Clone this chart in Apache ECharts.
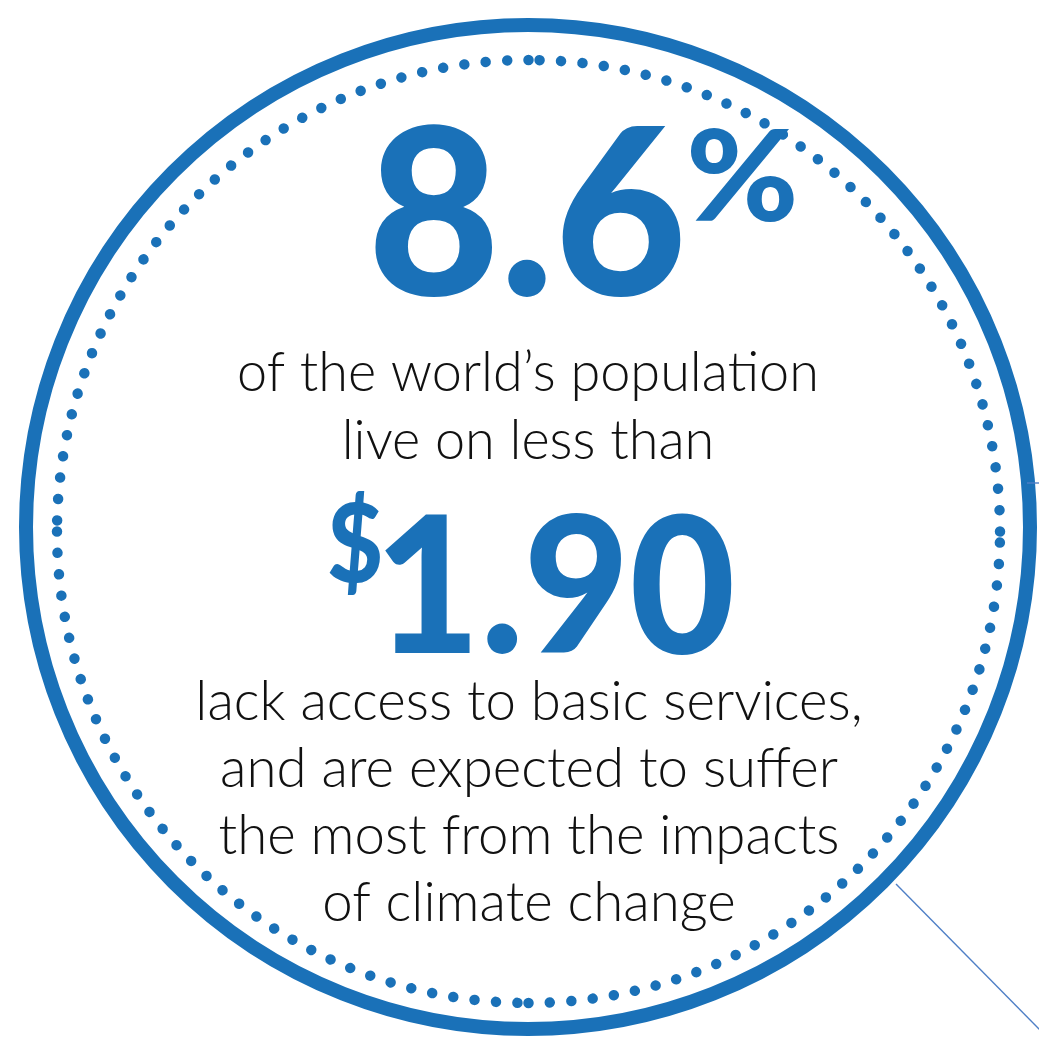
<!DOCTYPE html>
<html>
<head>
<meta charset="utf-8">
<script src="https://cdn.jsdelivr.net/npm/echarts@6/dist/echarts.min.js"></script>
<style>
html,body{margin:0;padding:0;background:#fff;}
#chart{width:1039px;height:1037px;}
</style>
</head>
<body>
<div id="chart"></div>
<script>
// ---- content ----
const shareValue = ['8.6'];
const shareUnit = ['%'];
const currency = ['$'];
const thresholdValue = ['1.90'];
const introLines = ["of the world\u2019s population", "live on less than"];
const outroLines = ["lack access to basic services,", "and are expected to suffer", "the most from the impacts", "of climate change"];

const BLUE = '#1a71b8';
const THIN = '#4f7fc6';
const chart = echarts.init(document.getElementById('chart'), null, {renderer: 'canvas'});

const cx = 528, cy = 527;
const dcx = 528.5, dcy = 531.5, dr = 471.5;
const graphics = [];

// outer ring
graphics.push({type: 'circle', shape: {cx: cx, cy: cy, r: 502}, style: {fill: 'none', stroke: BLUE, lineWidth: 14}, z: 1});

// dotted ring: four quarter arcs, counterclockwise from each cardinal point
const quarterLen = Math.PI * dr / 2;
const gap = (quarterLen - 11.7) / 34;
[-Math.PI / 2, Math.PI, Math.PI / 2, 0].forEach(function (a0) {
  graphics.push({
    type: 'arc',
    shape: {cx: dcx, cy: dcy, r: dr, startAngle: a0, endAngle: a0 - Math.PI / 2 + 0.001, clockwise: false},
    style: {fill: 'none', stroke: BLUE, lineWidth: 10.5, lineCap: 'round', lineDash: [0.01, gap]},
    z: 2
  });
});

// thin connector lines
graphics.push({type: 'line', shape: {x1: 896, y1: 884, x2: 1040, y2: 1030}, style: {stroke: THIN, lineWidth: 1.4}, z: 0});
graphics.push({type: 'line', shape: {x1: 1027, y1: 483, x2: 1039, y2: 483}, style: {stroke: THIN, lineWidth: 1.4}, z: 3});

const bigFont = 'Lato';
const bodyFont = 'Lato';

// headline 8.6 %
graphics.push({type: 'text', x: 527, y: 336, scaleX: 0.98, style: {text: shareValue[0], font: '900 233px ' + bigFont, fill: BLUE, align: 'center', verticalAlign: 'bottom'}, z: 5});
graphics.push({type: 'text', x: 686, y: 243, scaleX: 1.08, style: {text: shareUnit[0], font: '900 126px ' + bigFont, fill: BLUE, align: 'left', verticalAlign: 'bottom'}, z: 5});

// $1.90
graphics.push({type: 'text', x: 327, y: 603, scaleX: 0.88, style: {text: currency[0], font: '900 110px ' + bigFont, fill: BLUE, align: 'left', verticalAlign: 'bottom'}, z: 5});
graphics.push({type: 'text', x: 555, y: 687, scaleX: 0.96, style: {text: thresholdValue[0], font: '900 190px ' + bigFont, fill: BLUE, align: 'center', verticalAlign: 'bottom'}, z: 5});

// body text
const bodyStyle = function (t) { return {text: t, font: '300 56px ' + bodyFont, fill: '#111', align: 'center', verticalAlign: 'bottom'}; };
introLines.forEach(function (t, i) {
  graphics.push({type: 'text', x: 528, y: 401 + i * 68, scaleX: 0.965, style: bodyStyle(t), z: 5});
});
outroLines.forEach(function (t, i) {
  graphics.push({type: 'text', x: 529, y: 730 + i * 67, scaleX: 0.975, style: bodyStyle(t), z: 5});
});

chart.setOption({
  backgroundColor: '#ffffff',
  animation: false,
  graphic: {elements: graphics}
});
</script>
</body>
</html>
